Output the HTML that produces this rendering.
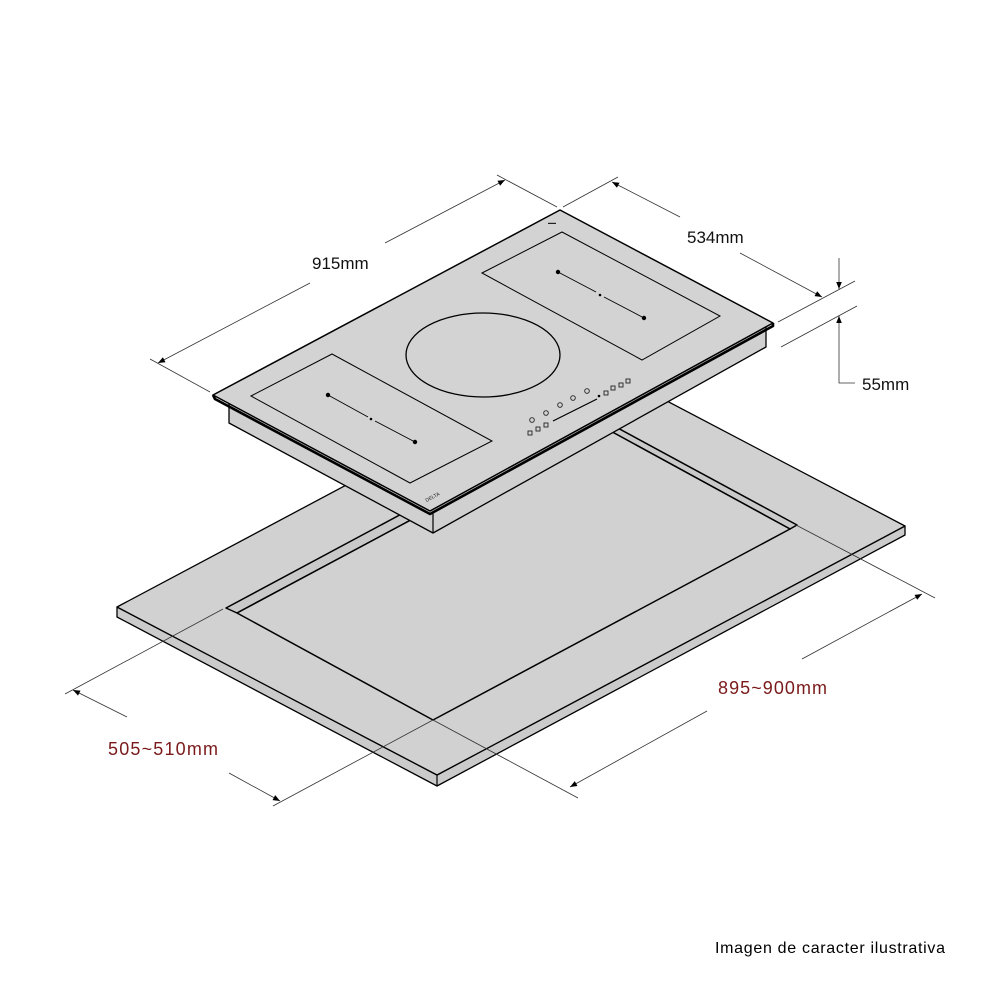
<!DOCTYPE html>
<html><head><meta charset="utf-8"><style>
html,body{margin:0;padding:0;background:#fff;}
svg{display:block;}
text{font-family:"Liberation Sans",Arial,sans-serif;}
</style></head><body>
<svg width="1000" height="1000" viewBox="0 0 1000 1000" xmlns="http://www.w3.org/2000/svg">
<defs>
<marker id="ar" viewBox="0 0 10 10" refX="10" refY="5" markerWidth="9" markerHeight="7" orient="auto-start-reverse" markerUnits="userSpaceOnUse"><path d="M0,1 L10,5 L0,9 z" fill="#000"/></marker>
</defs>
<rect width="1000" height="1000" fill="#fff"/>

<polygon points="117,607 117,617 437,786 905,535 905,526 437,775" fill="#cbcbcb" stroke="#000" stroke-width="1.3" stroke-linejoin="round"/>
<polygon points="117,607 585,358 905,526 437,775" fill="#d1d1d1" stroke="#000" stroke-width="1.3" stroke-linejoin="round"/>
<line x1="437" y1="775" x2="437" y2="786" stroke="#000" stroke-width="1.2"/>
<polygon points="226,608 590,413 797,525 790,529 594,422 237,613" fill="#c9c9c9" stroke="#000" stroke-width="1.5" stroke-linejoin="round"/>
<polygon points="237,613 594,422 790,529 433,720" fill="#d1d1d1" stroke="#000" stroke-width="1.5" stroke-linejoin="round"/>

<polygon points="229,400 229,423 433,533 766,347 766,320" fill="#d0d0d0" stroke="#000" stroke-width="1.3" stroke-linejoin="round"/>
<line x1="433" y1="512" x2="433" y2="533" stroke="#000" stroke-width="1.2"/>
<polygon points="213,395 560,210 773,323 430,511" fill="#d3d3d3" stroke="#000" stroke-width="1.5" stroke-linejoin="round"/>
<polyline points="213,395 215,399 430,514 773,326 773,323" fill="none" stroke="#000" stroke-width="2.6" stroke-linejoin="round"/>

<polygon points="251,396 332,354 492,441 410,483" fill="none" stroke="#000" stroke-width="1"/>
<polygon points="482,273 562,232 720,316 642,360" fill="none" stroke="#000" stroke-width="1"/>
<ellipse cx="483" cy="355" rx="77" ry="42" fill="none" stroke="#000" stroke-width="1.3"/>
<line x1="328" y1="395" x2="368" y2="417" stroke="#000" stroke-width="0.9"/>
<line x1="375" y1="421" x2="415" y2="442" stroke="#000" stroke-width="0.9"/>
<circle cx="328" cy="395" r="2.2"/><circle cx="415" cy="442" r="2.2"/>
<line x1="558" y1="272" x2="596" y2="292" stroke="#000" stroke-width="0.9"/>
<line x1="604" y1="297" x2="644" y2="318" stroke="#000" stroke-width="0.9"/>
<circle cx="558" cy="272" r="2.2"/><circle cx="644" cy="318" r="2.2"/>
<circle cx="371" cy="419" r="1.3"/><circle cx="600" cy="295" r="1.3"/>

<g fill="none" stroke="#222" stroke-width="0.9">
<circle cx="532" cy="420" r="2.3"/><circle cx="546" cy="413" r="2.3"/><circle cx="560" cy="405" r="2.3"/><circle cx="573" cy="398" r="2.3"/><circle cx="587" cy="391" r="2.3"/>
<rect x="604" y="391" width="4" height="4"/><rect x="611" y="386" width="4" height="4"/><rect x="619" y="383" width="4" height="4"/><rect x="626" y="379" width="4" height="4"/>
<rect x="528" y="431" width="4" height="4"/><rect x="536" y="427" width="4" height="4"/><rect x="544" y="423" width="4" height="4"/>
</g>
<line x1="553" y1="421" x2="597" y2="399" stroke="#000" stroke-width="1.2"/>
<circle cx="599" cy="396" r="1.3"/>
<text x="548" y="224" font-size="4" fill="#222">▬▬</text>
<text x="425" y="500" font-size="5" fill="#222" transform="rotate(-28 430 498)">DELTA</text>

<g stroke="#333" stroke-width="0.8" fill="none">
<line x1="210" y1="392" x2="150" y2="359"/>
<line x1="557" y1="207" x2="497" y2="175"/>
<line x1="310" y1="283" x2="158" y2="363" marker-end="url(#ar)"/>
<line x1="385" y1="243" x2="505" y2="180" marker-end="url(#ar)"/>
<line x1="563" y1="207" x2="618" y2="177"/>
<line x1="680" y1="217" x2="612" y2="182" marker-end="url(#ar)"/>
<line x1="740" y1="253" x2="822" y2="297" marker-end="url(#ar)"/>
<line x1="778" y1="322" x2="855" y2="281"/>
<line x1="781" y1="347" x2="857" y2="306"/>
<line x1="839" y1="258" x2="839" y2="289" marker-end="url(#ar)"/>
<polyline points="855,383 839,383 839,316" marker-end="url(#ar)"/>
<line x1="223" y1="609" x2="65" y2="694"/>
<line x1="433" y1="720" x2="273" y2="806"/>
<line x1="127" y1="717" x2="73" y2="690" marker-end="url(#ar)"/>
<line x1="229" y1="773" x2="280" y2="801" marker-end="url(#ar)"/>
<line x1="433" y1="720" x2="578" y2="798"/>
<line x1="796" y1="525" x2="935" y2="598"/>
<line x1="802" y1="659" x2="922" y2="594" marker-end="url(#ar)"/>
<line x1="707" y1="711" x2="570" y2="787" marker-end="url(#ar)"/>
</g>

<text x="312" y="269" font-size="17" fill="#111">915mm</text>
<text x="687" y="243" font-size="17" fill="#111">534mm</text>
<text x="862" y="390" font-size="17" fill="#111">55mm</text>
<text x="108" y="755" font-size="18" fill="#7a1a1a" textLength="110">505~510mm</text>
<text x="718" y="694" font-size="18" fill="#7a1a1a" textLength="109">895~900mm</text>
<text x="715" y="953" font-size="16" fill="#000" textLength="230">Imagen de caracter ilustrativa</text>
</svg>
</body></html>
